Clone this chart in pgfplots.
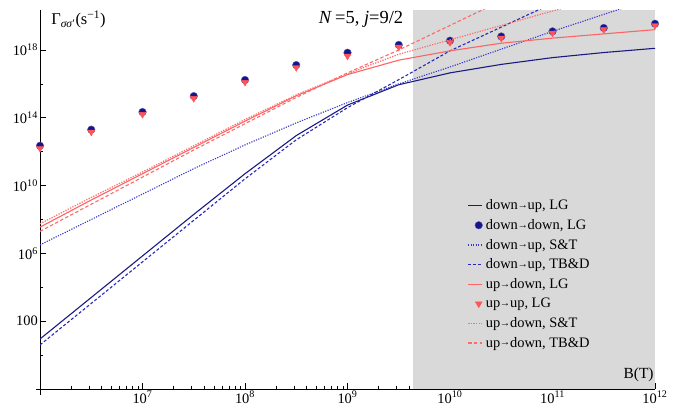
\documentclass[border=0pt]{standalone}
\usepackage{fontspec}
\setmainfont{Liberation Serif}
\usepackage{graphicx}
\usepackage{pgfplots}
\pgfplotsset{compat=1.18}
\definecolor{navy}{RGB}{26,26,130}
\definecolor{dotnavy}{RGB}{20,20,140}
\definecolor{bst}{RGB}{55,55,205}
\definecolor{btb}{RGB}{40,40,185}
\definecolor{rlg}{RGB}{255,100,100}
\definecolor{rst}{RGB}{255,110,110}
\definecolor{rtb}{RGB}{255,105,105}
\definecolor{tri}{RGB}{255,85,85}
\definecolor{shade}{RGB}{217,217,217}
\newcommand{\fs}{\fontsize{14.5}{16}\selectfont}
\newcommand{\ar}{\kern-0.3bp\raisebox{0.09em}{\scalebox{0.72}{→}}\kern-0.3bp}
\pgfplotsset{
  linelegend/.style={legend image code/.code={\draw[##1] (0bp,0bp) -- (14bp,0bp);}},
  marklegend/.style={legend image code/.code={\draw[##1] plot coordinates {(10.5bp,0bp)};}},
}
\begin{document}
\begin{tikzpicture}
\path[use as bounding box] (-40bp,-18bp) rectangle (639bp,389bp);
\begin{axis}[
  at={(0,0)}, anchor=south west,
  scale only axis, width=615bp, height=379bp,
  xmode=log, ymode=log,
  xmin=1e6, xmax=1e12, ymin=1e-2, ymax=2.29e20,
  axis lines=left,
  axis line style={-, line width=0.9bp, black},
  x axis line style={shorten <=-4bp},
  y axis line style={shorten <=-6bp},
  tick align=inside,
  major tick length=6bp, minor tick length=3.5bp,
  tick style={black, line width=0.6bp},
  xtick={1e7,1e8,1e9,1e10,1e11,1e12},
  xticklabels={10\textsuperscript{7},10\textsuperscript{8},10\textsuperscript{9},10\textsuperscript{10},10\textsuperscript{11},10\textsuperscript{12}},
  minor xtick={2e6,3e6,4e6,5e6,6e6,7e6,8e6,9e6,
    2e7,3e7,4e7,5e7,6e7,7e7,8e7,9e7,
    2e8,3e8,4e8,5e8,6e8,7e8,8e8,9e8,
    2e9,3e9,4e9,5e9,6e9,7e9,8e9,9e9,
    2e10,3e10,4e10,5e10,6e10,7e10,8e10,9e10,
    2e11,3e11,4e11,5e11,6e11,7e11,8e11,9e11},
  ytick={1e2,1e6,1e10,1e14,1e18},
  yticklabels={100,10\textsuperscript{6},10\textsuperscript{10},10\textsuperscript{14},10\textsuperscript{18}},
  minor ytick={1,1e4,1e8,1e12,1e16},
  ticklabel style={font=\fs},
  xticklabel style={inner sep=1bp, yshift=-1bp},
  yticklabel style={inner sep=2bp},
  clip mode=individual,
  linelegend,
  legend style={at={(rel axis cs:0.695,0.505)}, anchor=north west, draw=none, fill=none,
    font=\fs, row sep=4.2bp, inner sep=0bp, cells={anchor=west},
    /tikz/every odd column/.append style={column sep=1bp}},
]
% shaded region
\addplot[draw=none, fill=shade, forget plot] coordinates {(4.36e9,1e-2) (4.36e9,2.29e20) (1e12,2.29e20) (1e12,1e-2)} -- cycle;

% down->up, LG
\addplot[navy, line width=1.1bp] coordinates {
(1e6,8.913e0) (3.162e6,2.512e3) (1e7,7.079e5) (3.162e7,1.995e8) (1e8,5.012e10)
(3.162e8,8.913e12) (1e9,5.623e14) (3.162e9,8.913e15) (1e10,4.467e16)
(3.162e10,1.413e17) (1e11,3.548e17) (3.162e11,7.079e17) (1e12,1.259e18)};
\addlegendentry{down\ar up, LG}

% down->down, LG
\addplot[only marks, mark=*, mark size=3.8bp, mark options={fill=dotnavy, draw=dotnavy!70!white, line width=0.4bp},
  marklegend] coordinates {
(1e6,2.239e12) (3.162e6,2.0e13) (1e7,2.2e14) (3.162e7,1.9e15) (1e8,1.7e16)
(3.162e8,1.29e17) (1e9,6.9e17) (3.162e9,2.0e18) (1e10,3.55e18)
(3.162e10,6.3e18) (1e11,1.26e19) (3.162e11,2.0e19) (1e12,3.55e19)};
\addlegendentry{down\ar down, LG}

% down->up, S&T
\addplot[bst, line width=1.1bp, dash pattern=on 1.2bp off 1.3bp] coordinates {
(1e6,3.162e6) (3.162e6,1e8) (1e7,3.162e9) (3.162e7,1e11) (1e8,2.512e12)
(3.162e8,5.012e13) (1e9,7.943e14) (3.162e9,1e16) (1e10,1e17)
(3.162e10,1.122e18) (1e11,1.259e19) (3.162e11,1.259e20) (1e12,1.259e21)};
\addlegendentry{down\ar up, S\&T}

% down->up, TB&D
\addplot[btb, line width=1.1bp, dash pattern=on 3bp off 2bp] coordinates {
(1e6,3.981e0) (3.162e6,1.122e3) (1e7,3.162e5) (3.162e7,8.913e7) (1e8,2.512e10)
(3.162e8,5.012e12) (1e9,3.981e14) (3.162e9,1.778e16) (1e10,8.913e17)
(3.162e10,2.239e19) (1e11,5.623e20)};
\addlegendentry{down\ar up, TB\&D}

% up->down, LG
\addplot[rlg, line width=1.1bp] coordinates {
(1e6,3.548e7) (3.162e6,1.413e9) (1e7,5.012e10) (3.162e7,1.778e12) (1e8,6.310e13)
(3.162e8,1.995e15) (1e9,3.548e16) (3.162e9,2.512e17) (1e10,8.913e17)
(3.162e10,2.512e18) (1e11,5.012e18) (3.162e11,8.913e18) (1e12,1.585e19)};
\addlegendentry{up\ar down, LG}

% up->up, LG
\addplot[only marks, mark=triangle*, mark size=3.9bp, mark options={rotate=180, fill=tri, draw=tri},
  marklegend] coordinates {
(1e6,1.6e12) (3.162e6,1.45e13) (1e7,1.6e14) (3.162e7,1.4e15) (1e8,1.25e16)
(3.162e8,9.3e16) (1e9,4.4e17) (3.162e9,1.5e18) (1e10,2.8e18)
(3.162e10,5.0e18) (1e11,1.0e19) (3.162e11,1.6e19) (1e12,2.8e19)};
\addlegendentry{up\ar up, LG}

% up->down, S&T
\addplot[rst, line width=1.2bp, dash pattern=on 1.3bp off 1.3bp] coordinates {
(1e6,5.623e7) (3.162e6,1.995e9) (1e7,6.310e10) (3.162e7,2.239e12) (1e8,7.943e13)
(3.162e8,2.239e15) (1e9,3.981e16) (3.162e9,5.623e17) (1e10,3.981e18)
(3.162e10,2.818e19) (1e11,1.995e20) (3.162e11,1.259e21)};
\addlegendentry{up\ar down, S\&T}

% up->down, TB&D
\addplot[rtb, line width=1.1bp, dash pattern=on 3.5bp off 2.2bp] coordinates {
(1e6,1.995e7) (3.162e6,7.943e8) (1e7,3.162e10) (3.162e7,1.259e12) (1e8,4.467e13)
(3.162e8,1.585e15) (1e9,4.467e16) (3.162e9,1e18) (1e10,2.818e19)
(3.162e10,7.943e20)};
\addlegendentry{up\ar down, TB\&D}

\node[anchor=north west, inner sep=0pt, font=\fontsize{16.5}{18}\selectfont] at (rel axis cs:0.018,0.998) {Γ\textsubscript{\textit{σσ}′}(s\textsuperscript{−1})};
\node[anchor=center, inner sep=0pt, font=\fontsize{18.5}{20}\selectfont] at (rel axis cs:0.522,0.976) {\textit{N}\,=5, \textit{j}=9/2};
\node[anchor=south east, inner sep=0pt, font=\fontsize{15.5}{17}\selectfont] at (rel axis cs:0.998,0.018) {B(T)};
\end{axis}
\end{tikzpicture}
\end{document}
